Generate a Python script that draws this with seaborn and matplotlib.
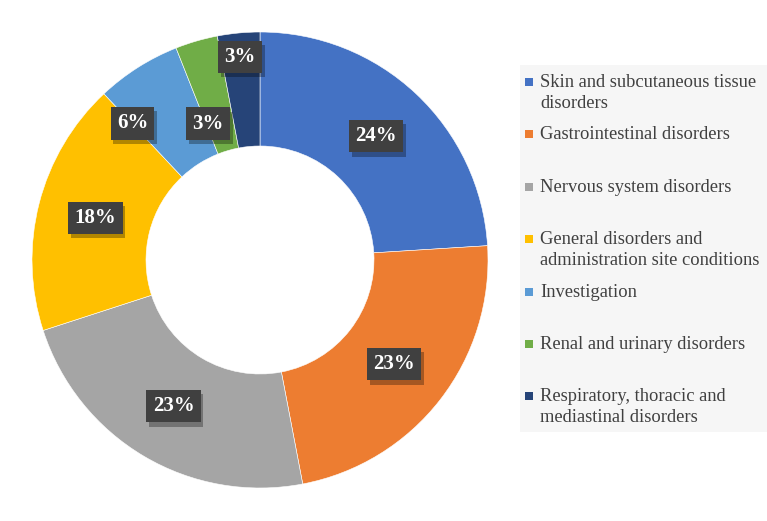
import numpy as np
import matplotlib
matplotlib.use("Agg")
import matplotlib.pyplot as plt
import matplotlib.patheffects as pe
from matplotlib.patches import Rectangle
import seaborn as sns

# Data
categories = [
    "Skin and subcutaneous tissue\ndisorders",
    "Gastrointestinal disorders",
    "Nervous system disorders",
    "General disorders and\nadministration site conditions",
    "Investigation",
    "Renal and urinary disorders",
    "Respiratory, thoracic and\nmediastinal disorders",
]
shares = [24, 23, 23, 18, 6, 3, 3]
pct_labels = [f"{v}%" for v in shares]

colors = ["#4472C4", "#ED7D31", "#A5A5A5", "#FFC000", "#5B9BD5", "#70AD47", "#264478"]

# label placement: None -> mid-angle of wedge, else (radius, angle in degrees)
label_override = [None, None, None, None, (0.82, 133.0), (0.64, 110.8), (0.895, 95.6)]

sns.set_theme(style="white")
plt.rcParams["font.family"] = ["Liberation Serif", "DejaVu Serif"]

W, H = 767, 521
fig = plt.figure(figsize=(W / 100, H / 100), dpi=100)
fig.patch.set_facecolor("white")

cx, cy, R = 260, 261, 228
ax = fig.add_axes([(cx - R) / W, (cy - R) / H, 2 * R / W, 2 * R / H])

wedges, _ = ax.pie(
    shares, colors=colors, startangle=90, counterclock=False, radius=1,
    wedgeprops=dict(width=0.5, edgecolor="white", linewidth=0.4),
)
ax.set_xlim(-1, 1)
ax.set_ylim(-1, 1)
ax.set_aspect("equal")
ax.axis("off")

for w, lab, ov in zip(wedges, pct_labels, label_override):
    if ov is None:
        ang = np.deg2rad((w.theta1 + w.theta2) / 2)
        r = 0.745
    else:
        r, a = ov
        ang = np.deg2rad(a)
    t = ax.text(r * np.cos(ang), r * np.sin(ang), lab, ha="center", va="center",
                color="white", fontsize=15, fontweight="bold",
                bbox=dict(boxstyle="square,pad=0.3", facecolor="#404040", edgecolor="none"))
    t.get_bbox_patch().set_path_effects([
        pe.SimplePatchShadow(offset=(2, -3), shadow_rgbFace="black", alpha=0.3),
        pe.Normal(),
    ])

# Legend panel
fig.patches.append(Rectangle((520 / W, 1 - 432 / H), 247 / W, (432 - 65) / H,
                             transform=fig.transFigure, facecolor="#f6f6f6",
                             edgecolor="none", zorder=0))
first_y = 87
step = 52.4
line_gap = 21
for i, (lab, col) in enumerate(zip(categories, colors)):
    yb = first_y + i * step
    fig.patches.append(Rectangle((525 / W, 1 - (yb - 1) / H), 8 / W, 8 / H,
                                 transform=fig.transFigure, facecolor=col,
                                 edgecolor="none", zorder=2))
    for j, line in enumerate(lab.split("\n")):
        fig.text(540 / W, 1 - (yb + j * line_gap) / H, line, ha="left", va="baseline",
                 fontsize=13.3, color="#404040")

fig.savefig("out.png", dpi=100)
